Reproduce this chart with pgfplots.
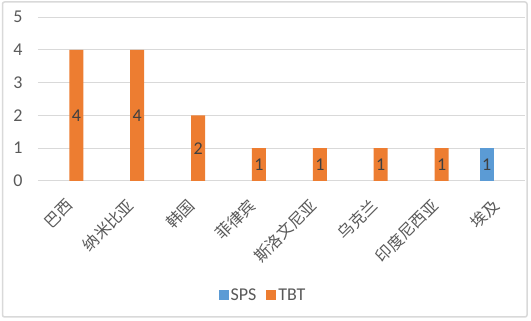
\documentclass[border=0pt]{standalone}
\usepackage{pgfplots}
\pgfplotsset{compat=1.18}
\usepackage{pgfplotstable}
\usepackage{fontspec}
\setmainfont{Carlito}
\newfontfamily\cjk{Noto Sans CJK SC}
\definecolor{sps}{HTML}{5B9BD5}
\definecolor{tbt}{HTML}{ED7D31}
\definecolor{gridc}{HTML}{D9D9D9}
\definecolor{txt}{HTML}{595959}
\definecolor{lbl}{HTML}{404040}
\pgfplotstableread{
x y
0 4
1 4
2 2
3 1
4 1
5 1
6 1
}\tbtdata
\pgfplotstableread{
x y
7 1
}\spsdata
\begin{document}
\begin{tikzpicture}
\path[use as bounding box] (0,0) rectangle (531pt,321pt);
\draw[gridc, line width=1.5pt, rounded corners=2pt] (2.5pt,4pt) rectangle (527pt,319pt);
\begin{axis}[
  at={(38pt,140pt)}, anchor=south west,
  scale only axis, width=487pt, height=164pt,
  xmin=-0.5, xmax=7.5, ymin=0, ymax=5,
  ytick={0,1,2,3,4,5},
  xtick={0,1,2,3,4,5,6,7},
  xticklabels={巴西,纳米比亚,韩国,菲律宾,斯洛文尼亚,乌克兰,印度尼西亚,埃及},
  axis line style={draw=none},
  major tick style={draw=none},
  ymajorgrids, grid style={gridc, line width=1pt},
  yticklabel style={font=\fontsize{18}{18}\selectfont, text=txt, anchor=east, xshift=-12pt},
  xticklabel style={font=\cjk\fontsize{16}{16}\selectfont, text=txt, xshift=4pt, yshift=-19pt, rotate=45, anchor=east},
  /pgf/number format/assume math mode=true,
  legend columns=2,
  legend style={draw=none, at={(0.462,-0.695)}, anchor=center, font=\fontsize{18}{18}\selectfont, text=txt,
    /tikz/every even column/.append style={column sep=8pt}},
  legend image code/.code={\fill[#1] (0pt,-5pt) rectangle (10pt,5pt);},
  clip=false,
]
\addplot[ybar, bar width=0.23, bar shift=-0.13, fill=sps, draw=none] table[x=x,y=y]{\spsdata};
\addlegendentry{SPS}
\addplot[ybar, bar width=0.23, bar shift=0.13, fill=tbt, draw=none] table[x=x,y=y]{\tbtdata};
\addlegendentry{TBT}
\addplot[draw=none, mark=none, forget plot, nodes near coords, point meta=explicit,
  every node near coord/.append style={anchor=center, text=lbl, font=\fontsize{18}{18}\selectfont, inner sep=0pt}]
  table[x expr=\thisrow{x}-0.13, y expr=\thisrow{y}/2, meta=y]{\spsdata};
\addplot[draw=none, mark=none, forget plot, nodes near coords, point meta=explicit,
  every node near coord/.append style={anchor=center, text=lbl, font=\fontsize{18}{18}\selectfont, inner sep=0pt}]
  table[x expr=\thisrow{x}+0.13, y expr=\thisrow{y}/2, meta=y]{\tbtdata};
\end{axis}
\end{tikzpicture}
\end{document}
